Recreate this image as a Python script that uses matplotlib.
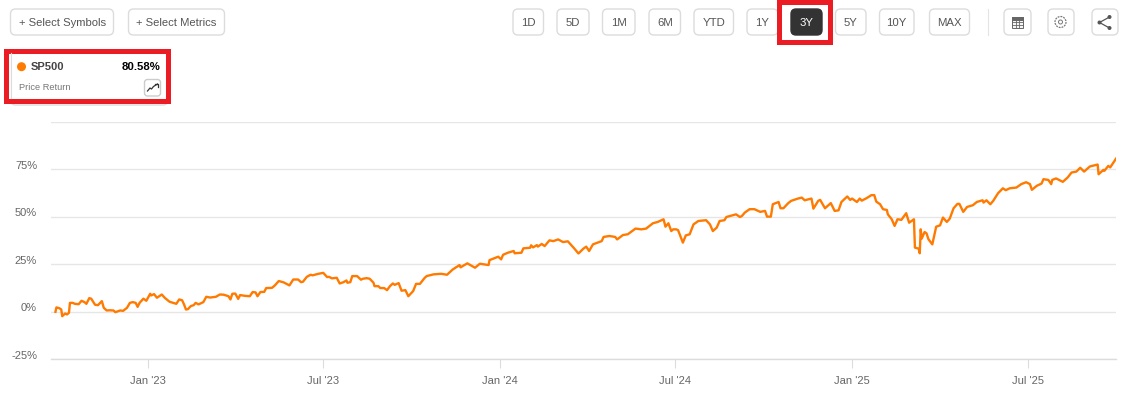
import matplotlib
matplotlib.use("Agg")
import matplotlib.pyplot as plt
from matplotlib.patches import FancyBboxPatch, Rectangle, Circle
from matplotlib.transforms import ScaledTranslation

plt.rcParams['font.family'] = ['Liberation Sans', 'DejaVu Sans']

days_since_2023 = [
 -96,-95,-92,-90,-89,-86,-84,-82,-81,-78,-76,-72,-69,-66,-64,-61,-59,-55,-52,-48,-46,-43,-40,-36,-34,-29,-26,-22,-19,-16,-13,-11,-9,-5,-2,
 2,3,6,9,14,17,22,26,29,32,35,37,39,41,44,47,49,52,57,60,64,70,74,78,83,
 85,87,90,93,95,100,105,108,111,113,116,120,122,128,131,135,140,146,150,155,158,160,164,168,170,176,181,185,187,190,195,198,202,205,206,209,211,216,220,222,226,229,233,234,238,240,244,247,250,253,255,259,262,266,
 269,274,277,281,286,288,295,303,309,315,322,323,330,338,343,352,353,362,365,367,372,378,379,386,388,395,396,398,402,403,407,410,415,419,424,429,434,440,445,450,453,456,460,469,471,477,483,485,491,496,504,510,515,522,527,533,535,538,541,543,546,548,553,556,560,564,569,577,581,584,588,591,596,598,608,612,614,617,622,627,
 633,638,640,644,646,652,654,657,662,665,672,676,679,686,688,693,695,700,706,710,714,717,723,726,728,733,736,738,743,748,751,753,757,760,764,765,769,772,775,779,784,787,792,793,797,798,799,800,803,805,807,811,815,819,822,826,829,833,837,839,843,847,853,857,863,864,867,871,874,879,884,887,891,898,903,908,912,914,919,924,926,931,934,935,939,946,951,955,960,964,968,974,982,983,988,989,993,995,1001]
sp500_return = [
 0,2.3,1.9,1.2,-2.3,-0.9,-1.4,-0.5,4.7,4.7,4.2,4.0,5.8,5.1,4.2,7.2,6.9,3.7,3.5,5.6,2.1,0.7,0.8,0.7,-0.2,0.7,0.5,2.1,4.7,5.1,4.7,2.6,4.7,6.9,5.8,
 9.5,8.6,9.3,7.4,9.1,7.4,5.3,4.7,4.2,6.5,6.1,3.9,1.2,1.4,3.0,3.5,4.7,3.9,5.1,7.9,7.5,7.9,9.1,9.0,8.2,
 6.5,9.5,9.6,6.8,8.8,8.4,8.2,10.4,10.2,8.2,10.4,10.5,12.5,12.6,13.9,16.2,15.5,13.9,17.0,17.0,15.6,15.8,18.4,19.5,19.2,20.0,20.5,18.3,18.4,17.6,17.9,14.9,15.6,16.5,15.3,15.6,18.8,18.8,16.9,17.4,17.7,17.4,15.3,13.5,13.5,12.5,12.5,11.4,13.5,14.9,14.2,15.1,11.1,11.4,
 8.2,10.9,14.7,14.7,17.9,18.8,19.7,20.0,19.5,22.3,24.6,23.4,25.5,23.2,25.3,24.6,27.2,29,27.6,30,31.1,32,30.8,31.1,33.4,33.7,35,33.9,35.1,34.3,35.7,34.6,37.6,37.2,38.1,36.7,37.1,33.7,30.7,33.2,34.3,32,35.5,37.2,39.4,39.9,39.4,38.1,40.4,40.8,43.8,43.4,43.8,46.6,47.3,48.7,44.8,46.6,42.5,43.4,43.4,43,36.4,40.2,40.8,46,47.8,48.2,46,42.5,44.3,47.8,48.2,49.9,51.3,49.9,50.4,52.2,54,54,
 52.6,53.1,50.1,50.1,56.6,57.8,54.5,54.5,57.2,58.4,59.6,60.1,58.7,59.6,54.3,58.4,58.9,54.5,57.2,53.1,53.4,57.8,60.7,58.9,59.6,57.8,59.6,58.5,59.8,61.4,61.4,58,56.6,54,53.6,51.3,48.7,45.2,48.7,48.4,51.9,46.9,48.7,33.8,33.2,30.8,43.4,38.5,42,41.3,38.2,35.5,44.8,45.5,49.6,47.3,49,54.5,56.8,56.8,52.6,55.2,56.1,57.8,58.7,57.5,58.7,56.6,58.4,62.4,65,64,65,65.4,67.2,68.2,67.2,64.2,66.3,67.5,69.8,69.4,67.2,69.4,70.2,68.4,70.7,73.3,73.8,75.8,73.8,76.5,77.5,72.4,74.7,74.2,76.8,76,80.58]

y_ticks = [-25, 0, 25, 50, 75, 100]
y_tick_labels = ['-25%', '0%', '25%', '50%', '75%', '']
x_tick_days = [0, 181, 364, 545, 728, 910]
x_tick_labels = ["Jan '23", "Jul '23", "Jan '24", "Jul '24", "Jan '25", "Jul '25"]
range_labels = ['1D', '5D', '1M', '6M', 'YTD', '1Y', '3Y', '5Y', '10Y', 'MAX']
range_boxes = [(513, 543.5), (557, 589), (602.5, 635), (649, 680.5), (694, 733.5),
               (747, 778), (791, 822), (835.5, 866), (879.5, 914), (929.5, 969.5)]

ORANGE = '#ff7a00'
W, H = 1130, 406
fig = plt.figure(figsize=(W / 100, H / 100), dpi=100, facecolor='white')

ax = fig.add_axes([51 / W, 1 - 360.3 / H, (1116 - 51) / W, (360.3 - 122.8) / H])
ax.plot(days_since_2023, sp500_return, color=ORANGE, lw=1.7, solid_joinstyle='round', zorder=3)
ax.set_xlim(-100.6, 1001)
ax.set_ylim(-25, 100)
ax.set_yticks(y_ticks, y_tick_labels)
ax.set_xticks(x_tick_days, x_tick_labels)
ax.grid(axis='y', color='#e6e6e6', lw=1.0)
ax.set_axisbelow(True)
for s in ['top', 'left', 'right']:
    ax.spines[s].set_visible(False)
ax.spines['bottom'].set_color('#dcdcdc')
ax.spines['bottom'].set_linewidth(1.0)
ax.tick_params(axis='y', length=0, pad=10, labelsize=8, labelcolor='#666666')
ax.tick_params(axis='x', length=6.8, width=0.8, color='#dcdcdc', pad=4.2, labelsize=8, labelcolor='#666666')
off = ScaledTranslation(0, 5.5 / 100, fig.dpi_scale_trans)
for lab in ax.get_yticklabels():
    lab.set_transform(lab.get_transform() + off)

ui = fig.add_axes([0, 0, 1, 1], zorder=5)
ui.set_xlim(0, W)
ui.set_ylim(H, 0)
ui.axis('off')
ui.patch.set_alpha(0)

def button(x0, x1, y0=10, y1=36, fc='white', ec='#dcdcdc', r=5, lw=1.0, z=2):
    ui.add_patch(FancyBboxPatch((x0 + r, y0 + r), x1 - x0 - 2 * r, y1 - y0 - 2 * r,
                                boxstyle=f'round,pad={r},rounding_size={r}',
                                fc=fc, ec=ec, lw=lw, zorder=z))

button(10.5, 113.5)
button(128.5, 224.5)
ui.text(62.5, 23, '+ Select Symbols', ha='center', va='center', fontsize=8.1, color='#555555')
ui.text(176.5, 23, '+ Select Metrics', ha='center', va='center', fontsize=8.1, color='#555555')

for lab, (x0, x1) in zip(range_labels, range_boxes):
    active = lab == '3Y'
    button(x0, x1, fc='#333333' if active else 'white', ec='#333333' if active else '#dcdcdc')
    ui.text((x0 + x1) / 2, 23, lab, ha='center', va='center', fontsize=8.2,
            color='white' if active else '#555555', zorder=3)

# red highlight on 3Y
ui.add_patch(Rectangle((778.5, 2.5), 51.5, 40.5, fc='none', ec='#ec1c24', lw=3.6, zorder=4))

ui.plot([987.5, 987.5], [10, 36], color='#e4e4e4', lw=0.8)
for x0, x1 in [(1004, 1031), (1048, 1074), (1092, 1118)]:
    button(x0, x1)

# table icon
ui.add_patch(Rectangle((1012, 17.5), 11, 11, fc='#f4f4f4', ec='#666666', lw=0.7, zorder=3))
ui.add_patch(Rectangle((1012, 17.5), 11, 3, fc='#666666', ec='#666666', lw=0.7, zorder=3))
for v in (1015.7, 1019.3):
    ui.plot([v, v], [20, 28.5], color='#666666', lw=0.6, zorder=4)
for h in (23.2, 25.8):
    ui.plot([1012, 1023], [h, h], color='#666666', lw=0.6, zorder=4)
# gear icon
ui.add_patch(Circle((1060.5, 23), 5.5, fc='none', ec='#777777', lw=0.9, ls=(0, (1.5, 0.8)), zorder=3))
ui.add_patch(Circle((1060.5, 23), 2.0, fc='none', ec='#777777', lw=0.7, zorder=3))
# share icon
ui.plot([1109.5, 1099.5, 1109.5], [18, 23.5, 29], color='#555555', lw=0.9, zorder=3)
for cx, cy in [(1109.5, 18), (1099.5, 23.5), (1109.5, 29)]:
    ui.add_patch(Circle((cx, cy), 2.0, fc='#555555', ec='none', zorder=4))

# legend card
button(10.5, 168, 56, 106, ec='#dcdcdc', z=1)
ui.add_patch(Rectangle((5.5, 51.5), 162, 50, fc='white', ec='#ec1c24', lw=3.6, zorder=2))
ui.plot([10.5, 10.5], [54, 99], color='#dcdcdc', lw=0.8, zorder=3)
ui.add_patch(Circle((21.5, 67.7), 4.5, fc=ORANGE, ec='none', zorder=3))
ui.text(31, 67.5, 'SP500', ha='left', va='center', fontsize=8.0, fontweight='bold', color='#444444', zorder=3)
ui.text(160.5, 67.5, '80.58%', ha='right', va='center', fontsize=8.2, fontweight='bold', color='black', zorder=3)
ui.text(19, 87, 'Price Return', ha='left', va='center', fontsize=6.7, color='#777777', zorder=3)
button(144.5, 160.5, 80.5, 97, r=3, ec='#cccccc', z=3)
ui.plot([147.5, 150, 151.5, 153.5, 157.5], [92, 89, 90, 87.5, 85], color='#333333', lw=0.9, zorder=4)
ui.plot([154.5, 157.5, 157.5], [85, 85, 88], color='#333333', lw=0.9, zorder=4)

fig.savefig('out.png', dpi=100, facecolor='white')
